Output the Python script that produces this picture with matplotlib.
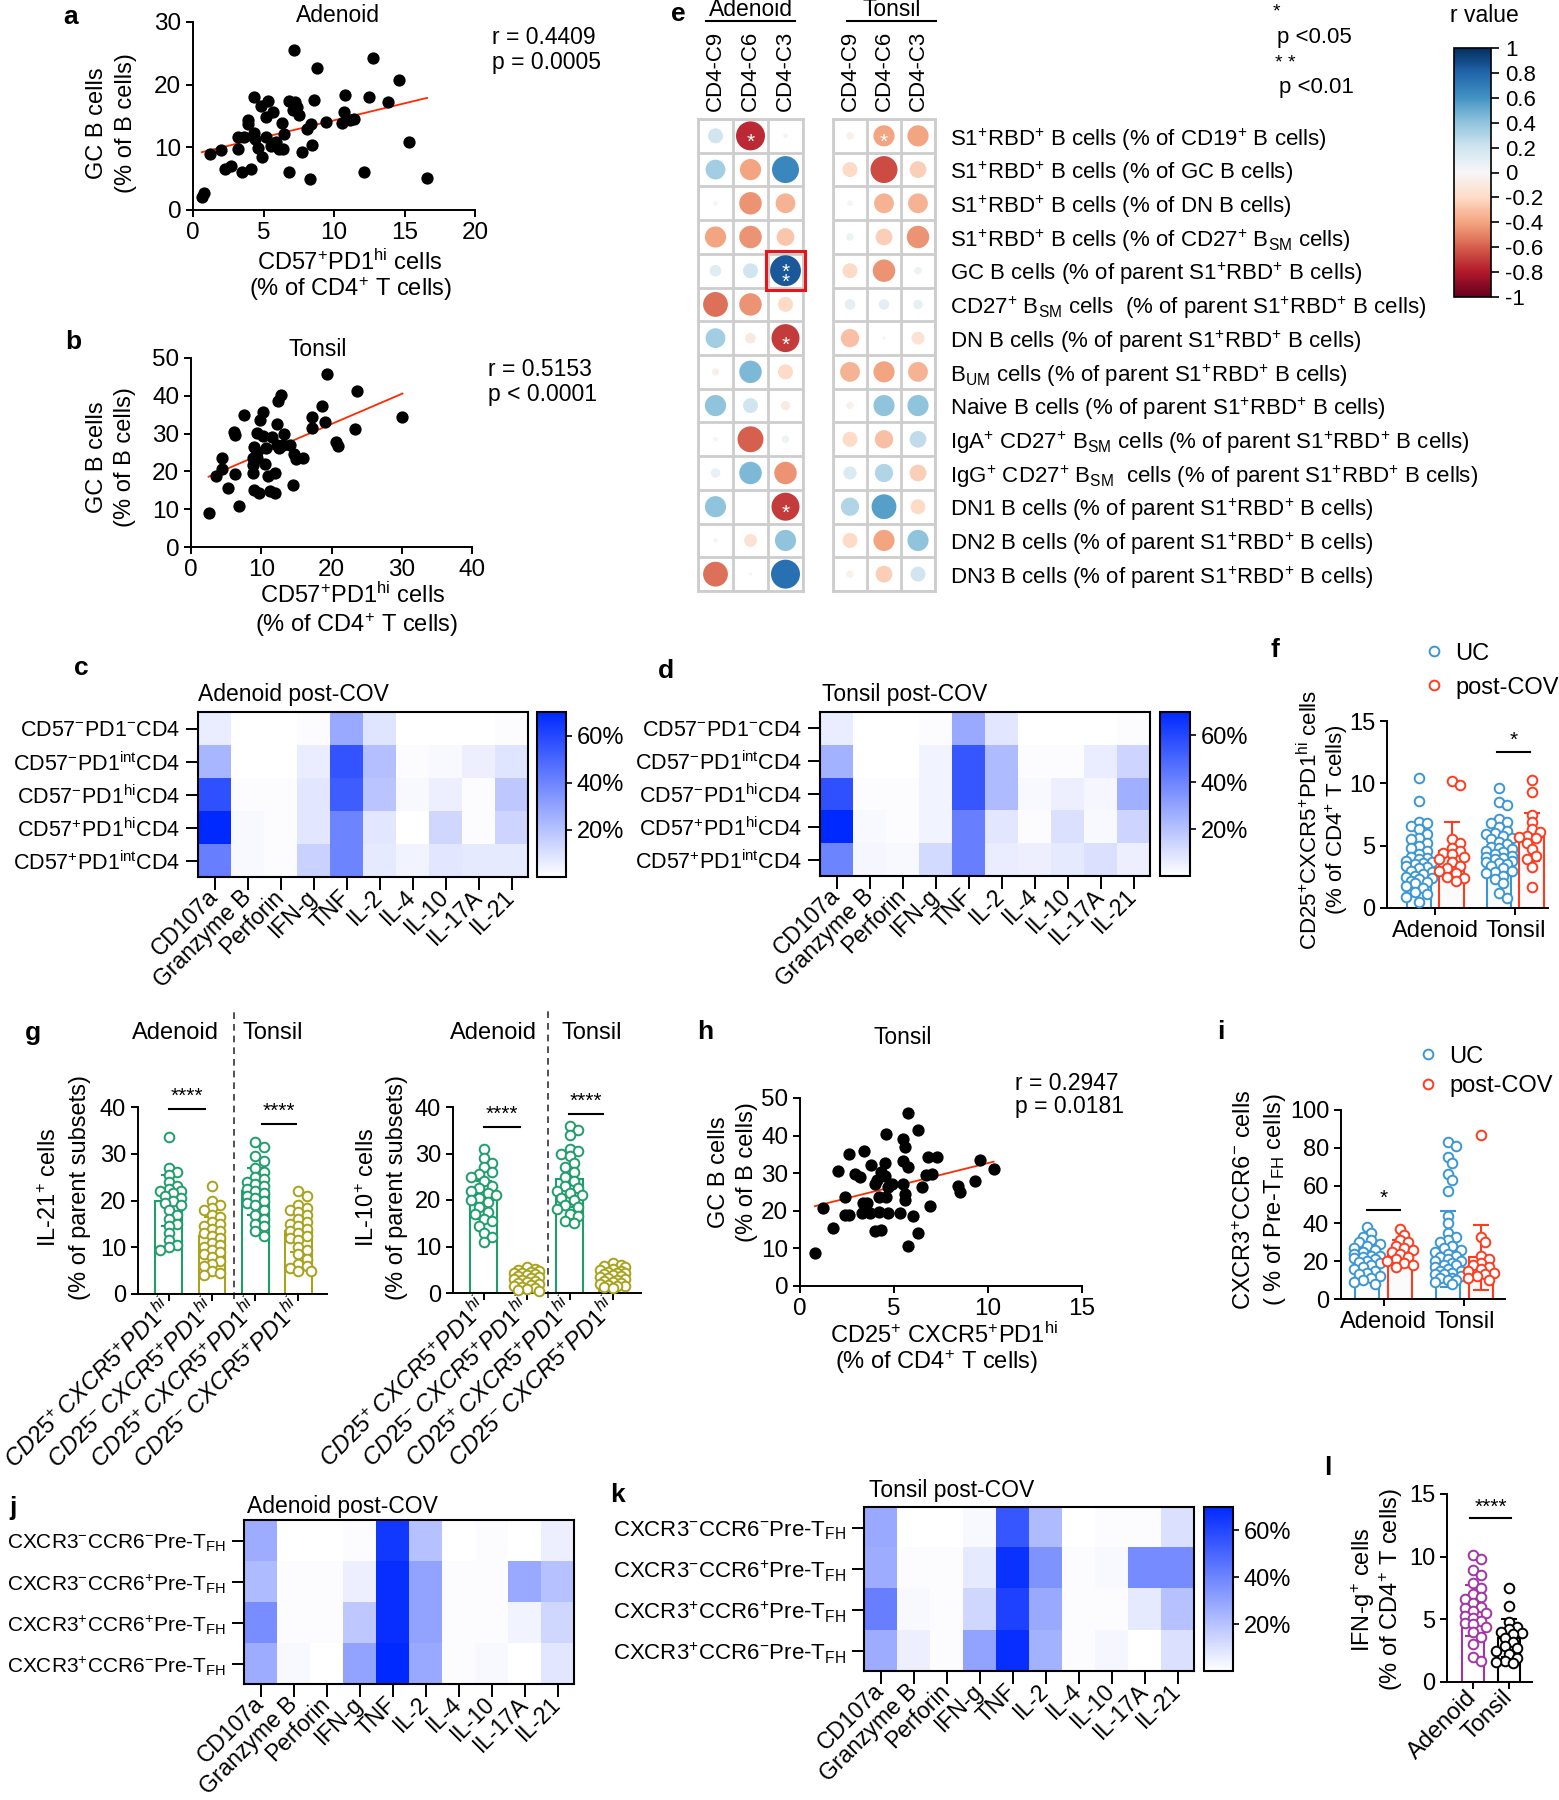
import numpy as np
import matplotlib.pyplot as plt
from matplotlib.colors import LinearSegmentedColormap, Normalize
from matplotlib.cm import ScalarMappable
from matplotlib.lines import Line2D
from matplotlib.patches import Rectangle

plt.rcParams['font.family'] = ['Liberation Sans', 'DejaVu Sans']
plt.rcParams['mathtext.fontset'] = 'custom'
plt.rcParams['mathtext.rm'] = 'Liberation Sans'
plt.rcParams['mathtext.it'] = 'Liberation Sans:italic'
plt.rcParams['mathtext.bf'] = 'Liberation Sans:bold'
plt.rcParams['axes.unicode_minus'] = False
plt.rcParams['axes.linewidth'] = 1.4
plt.rcParams['xtick.major.width'] = 1.4
plt.rcParams['ytick.major.width'] = 1.4
plt.rcParams['xtick.major.size'] = 5
plt.rcParams['ytick.major.size'] = 5
plt.rcParams['font.size'] = 15

# ---------------- data ----------------
# a: adenoid, CD57+PD1hi vs GC B cells
a_x = [0.62, 0.79, 1.18, 2.0, 2.3, 2.7, 3.2, 3.2, 3.5, 3.6, 4.1, 3.9, 3.9, 4.35, 4.3, 4.4,
       4.6, 4.8, 4.9, 5.2, 5.3, 5.2, 5.5, 5.7, 5.9, 6.1, 6.3, 6.45, 6.4, 6.8, 6.8, 7.1,
       7.15, 7.2, 7.4, 7.5, 7.7, 8.1, 8.3, 8.35, 8.45, 8.6, 8.8, 9.45, 10.6, 10.7, 10.8,
       11.1, 11.4, 12.1, 12.5, 12.8, 13.8, 14.6, 15.3, 16.6]
a_y = [2.0, 2.7, 8.9, 9.5, 6.5, 7.1, 9.8, 11.6, 6.1, 11.6, 6.6, 14.3, 13.8, 18.1, 12.3, 11.4,
       9.9, 16.6, 8.5, 14.8, 17.4, 11.7, 10.2, 15.7, 10.9, 9.8, 13.9, 12.2, 9.8, 6.1, 17.4, 15.9,
       25.6, 17.2, 16.5, 15.2, 9.3, 12.9, 4.9, 13.8, 10.4, 17.5, 22.7, 14.1, 13.9, 15.7, 18.3,
       14.3, 14.6, 6.1, 18.1, 24.3, 17.2, 20.8, 10.9, 5.1]
a_fit = (0.542, 8.89)

# b: tonsil
b_x = [2.5, 3.5, 4.4, 4.4, 5.3, 6.1, 6.2, 6.2, 6.9, 7.5, 8.8, 8.8, 8.8, 9.0, 9.0, 9.4, 9.4,
       9.4, 9.7, 9.8, 10.2, 10.3, 10.6, 10.7, 10.9, 11.2, 11.5, 12.0, 12.0, 12.2, 12.2, 12.4,
       12.5, 12.8, 13.1, 13.2, 14.1, 14.5, 14.7, 15.0, 16.0, 17.2, 17.2, 18.7, 19.1, 19.4,
       20.7, 20.9, 23.3, 23.7, 30.1]
b_y = [8.9, 18.8, 23.5, 20.7, 15.5, 30.5, 29.6, 19.2, 10.8, 34.9, 23.5, 21.7, 19.6, 26.5, 15.2,
       30.1, 25.2, 23.5, 14.4, 33.5, 29.4, 35.8, 21.9, 26.1, 18.8, 14.8, 29.2, 19.5, 14.2, 27.0,
       32.6, 38.6, 26.1, 40.2, 27.0, 29.8, 27.0, 16.5, 24.6, 23.2, 23.5, 34.3, 31.4, 37.2, 33.2,
       45.8, 27.9, 26.7, 31.2, 41.2, 34.5]
b_fit = (0.797, 16.6)

# h: tonsil, CD25+CXCR5+PD1hi vs GC B cells
h_x = [0.79, 1.2, 1.75, 2.0, 2.4, 2.4, 2.6, 2.6, 2.9, 3.2, 3.3, 3.4, 3.35, 3.55, 3.7, 3.8, 4.0,
       4.1, 4.2, 4.3, 4.3, 4.5, 4.5, 4.2, 4.0, 4.6, 4.7, 4.6, 4.7, 4.9, 5.3, 5.5, 5.5, 5.5,
       5.6, 5.6, 5.6, 5.75, 5.75, 5.75, 6.0, 6.3, 6.3, 6.5, 6.7, 6.8, 6.9, 7.0, 7.3, 8.4, 8.5,
       9.3, 9.6, 10.3]
h_y = [8.7, 20.7, 15.4, 30.6, 23.6, 19.0, 19.0, 35.0, 29.9, 29.1, 19.3, 36.0, 22.0, 22.0, 19.5,
       32.3, 14.7, 28.1, 19.8, 15.0, 30.2, 32.6, 29.3, 23.8, 27.1, 40.3, 19.5, 23.8, 26.2, 27.1,
       19.5, 27.1, 33.2, 39.0, 37.1, 24.6, 22.8, 46.0, 31.6, 10.7, 18.7, 14.0, 41.4, 26.2, 29.4,
       34.4, 21.3, 29.9, 34.4, 26.6, 24.9, 27.8, 33.5, 31.1]
h_fit = (1.245, 20.24)

# e: correlation matrix (rows = B cell readouts, cols = CD4 clusters)
e_cols = ['CD4-C9', 'CD4-C6', 'CD4-C3']
e_rows = [r"S1$^{+}$RBD$^{+}$ B cells (% of CD19$^{+}$ B cells)",
          r"S1$^{+}$RBD$^{+}$ B cells (% of GC B cells)",
          r"S1$^{+}$RBD$^{+}$ B cells (% of DN B cells)",
          r"S1$^{+}$RBD$^{+}$ B cells (% of CD27$^{+}$ B$_{\mathrm{SM}}$ cells)",
          r"GC B cells (% of parent S1$^{+}$RBD$^{+}$ B cells)",
          r"CD27$^{+}$ B$_{\mathrm{SM}}$ cells  (% of parent S1$^{+}$RBD$^{+}$ B cells)",
          r"DN B cells (% of parent S1$^{+}$RBD$^{+}$ B cells)",
          r"B$_{\mathrm{UM}}$ cells (% of parent S1$^{+}$RBD$^{+}$ B cells)",
          r"Naive B cells (% of parent S1$^{+}$RBD$^{+}$ B cells)",
          r"IgA$^{+}$ CD27$^{+}$ B$_{\mathrm{SM}}$ cells (% of parent S1$^{+}$RBD$^{+}$ B cells)",
          r"IgG$^{+}$ CD27$^{+}$ B$_{\mathrm{SM}}$  cells (% of parent S1$^{+}$RBD$^{+}$ B cells)",
          r"DN1 B cells (% of parent S1$^{+}$RBD$^{+}$ B cells)",
          r"DN2 B cells (% of parent S1$^{+}$RBD$^{+}$ B cells)",
          r"DN3 B cells (% of parent S1$^{+}$RBD$^{+}$ B cells)"]
adn_r = [[0.20, -0.75, 0.02], [0.35, -0.40, 0.65], [0.02, -0.45, -0.35], [-0.40, -0.45, -0.28],
         [0.12, 0.20, 0.85], [-0.55, -0.45, -0.20], [0.35, -0.10, -0.70], [-0.05, 0.45, -0.20],
         [0.40, 0.20, -0.08], [0.02, -0.60, 0.05], [0.08, 0.45, -0.45], [0.40, 0.00, -0.70],
         [-0.02, -0.15, 0.40], [-0.55, 0.01, 0.75]]
ton_r = [[-0.05, -0.40, -0.40], [-0.20, -0.65, -0.25], [-0.03, -0.35, -0.35], [0.05, -0.25, -0.45],
         [-0.20, -0.45, 0.05], [0.10, 0.10, 0.08], [-0.30, -0.01, -0.15], [-0.35, -0.40, -0.35],
         [-0.05, 0.40, 0.40], [-0.20, -0.30, 0.25], [0.15, 0.30, -0.25], [0.30, 0.55, -0.20],
         [-0.20, -0.40, 0.40], [-0.05, -0.25, 0.20]]
adn_sig = [(0, 1, '*'), (4, 2, '*\n*'), (6, 2, '*'), (11, 2, '*')]
ton_sig = [(0, 1, '*')]

# c, d, j, k: cytokine heatmaps (% of parent)
cytokines = ['CD107a', 'Granzyme B', 'Perforin', 'IFN-g', 'TNF', 'IL-2', 'IL-4', 'IL-10', 'IL-17A', 'IL-21']
cd57_rows = [r"CD57$^{-}$PD1$^{-}$CD4", r"CD57$^{-}$PD1$^{\mathrm{int}}$CD4", r"CD57$^{-}$PD1$^{\mathrm{hi}}$CD4",
             r"CD57$^{+}$PD1$^{\mathrm{hi}}$CD4", r"CD57$^{+}$PD1$^{\mathrm{int}}$CD4"]
c_vals = [[6, 0, 0, 1, 28, 9, 0, 0, 0, 1],
          [24, 0, 0, 6, 56, 21, 1, 2, 5, 9],
          [57, 1, 1, 8, 53, 19, 2, 5, 1, 18],
          [70, 2, 1, 8, 40, 8, 0, 13, 1, 14],
          [42, 2, 1, 15, 40, 7, 4, 8, 7, 7]]
d_vals = [[6, 0, 0, 1, 28, 8, 0, 0, 0, 1],
          [25, 0, 0, 4, 55, 22, 1, 1, 6, 14],
          [57, 1, 1, 4, 55, 22, 2, 5, 3, 26],
          [70, 2, 1, 4, 42, 8, 1, 10, 2, 14],
          [40, 3, 2, 12, 42, 6, 5, 7, 10, 5]]
tfh_rows = [r"CXCR3$^{-}$CCR6$^{-}$Pre-T$_{\mathrm{FH}}$", r"CXCR3$^{-}$CCR6$^{+}$Pre-T$_{\mathrm{FH}}$",
            r"CXCR3$^{+}$CCR6$^{+}$Pre-T$_{\mathrm{FH}}$", r"CXCR3$^{+}$CCR6$^{-}$Pre-T$_{\mathrm{FH}}$"]
j_vals = [[27, 0, 0, 1, 65, 20, 0, 1, 0, 5],
          [22, 1, 1, 5, 68, 30, 1, 1, 28, 20],
          [37, 1, 1, 18, 68, 30, 1, 1, 4, 13],
          [27, 2, 0, 30, 70, 28, 1, 2, 0, 8]]
k_vals = [[28, 0, 0, 2, 55, 22, 0, 1, 1, 10],
          [27, 1, 1, 7, 67, 35, 1, 2, 38, 38],
          [42, 2, 1, 13, 62, 28, 1, 1, 7, 20],
          [27, 5, 1, 30, 68, 25, 1, 3, 0, 10]]

# f: CD25+CXCR5+PD1hi (% of CD4+ T cells)
f_groups = ['Adenoid', 'Tonsil']
f_adn_uc = [10.4, 8.6, 6.9, 6.8, 6.6, 6.3, 5.9, 5.6, 5.5, 5.2, 5.0, 4.8, 4.6, 4.3, 4.1, 4.0, 3.9, 3.8,
            3.7, 3.6, 3.5, 3.4, 3.3, 3.2, 3.0, 2.9, 2.7, 2.6, 2.5, 2.4, 2.3, 2.2, 2.1, 2.0, 1.8, 1.6,
            1.3, 1.1, 0.9, 0.5]
f_adn_pc = [10.2, 9.9, 5.5, 5.2, 4.8, 4.6, 4.4, 4.3, 4.1, 3.9, 3.7, 3.4, 3.2, 3.0, 2.8, 2.5, 2.4, 2.2]
f_ton_uc = [9.6, 8.5, 8.3, 7.1, 6.9, 6.8, 6.5, 6.2, 6.0, 5.9, 5.8, 5.6, 5.5, 5.3, 5.1, 4.9, 4.8, 4.7,
            4.6, 4.5, 4.3, 4.2, 4.1, 4.0, 3.9, 3.8, 3.7, 3.6, 3.5, 3.4, 3.2, 3.0, 2.9, 2.8, 2.6, 2.3,
            2.0, 1.2, 0.8]
f_ton_pc = [10.3, 9.3, 7.5, 6.9, 6.3, 6.1, 5.8, 5.7, 5.6, 5.2, 4.7, 4.2, 3.9, 3.3, 1.7]
f_mean = [3.7, 4.6, 4.6, 5.7]
f_sd = [2.0, 2.3, 2.0, 1.9]

# g: IL-21+ and IL-10+ (% of parent subsets)
g_labels = [r"$\mathit{CD25^{+}\,CXCR5^{+}PD1^{hi}}$", r"$\mathit{CD25^{-}\,CXCR5^{+}PD1^{hi}}$",
            r"$\mathit{CD25^{+}\,CXCR5^{+}PD1^{hi}}$", r"$\mathit{CD25^{-}\,CXCR5^{+}PD1^{hi}}$"]
il21 = [[33.5, 27, 26, 25.5, 24, 23, 22.5, 22, 22, 21.5, 21, 20.5, 20, 19.5, 19, 18, 17, 16, 15, 14.5,
         13, 11.5, 10.5, 10, 9.5],
        [23, 20, 19, 18.5, 18, 17, 16.5, 15.5, 15, 14.5, 14, 13.5, 13, 12.5, 12, 11, 10.5, 10, 9.5,
         9, 8.5, 8, 7, 6.5, 6, 5, 4.5, 4],
        [32.5, 31.5, 29.5, 28.5, 27, 26, 25, 24.5, 24, 23.5, 23, 22.5, 22, 21.5, 21, 20.5, 20, 19.5,
         19, 18, 17, 16, 15, 14.5, 13.5, 12.5],
        [22, 21, 19, 18.5, 18, 17.5, 17, 16, 15.5, 15, 14.5, 14, 13.5, 13, 12.5, 12, 11.5, 10, 9.5,
         8.5, 7.5, 6.5, 6, 5.5, 5, 5]]
il21_mean = [20, 12.5, 22, 13.5]
il21_sd = [5.5, 4.0, 5.0, 4.5]
il10 = [[31, 29, 28, 27, 26, 25.5, 25, 24, 23, 22.5, 22, 21.5, 21, 20.5, 20, 19.5, 18.5, 17.5, 17,
         16, 15.5, 14.5, 13, 12, 11],
        [5.5, 5.2, 5, 4.8, 4.6, 4.4, 4.2, 4, 3.8, 3.6, 3.4, 3.2, 3, 2.8, 2.6, 2.4, 2.2, 2, 1.8, 1.5,
         1.2, 1.0, 0.8, 0.6, 0.5],
        [36, 35, 34, 31, 30.5, 30, 29.5, 28, 27, 26, 25, 24, 23, 22.5, 22, 21.5, 21, 20.5, 20, 19,
         18.5, 18, 17, 16.5, 15.5, 15],
        [6.5, 6, 5.8, 5.5, 5.2, 5, 4.8, 4.6, 4.4, 4.2, 4, 3.8, 3.6, 3.4, 3.2, 3, 2.8, 2.6, 2.4, 2.2,
         2, 1.8, 1.6, 1.4, 1.2, 1.0]]
il10_mean = [20, 3, 24.5, 3.5]
il10_sd = [4.0, 1.5, 6.0, 1.5]

# i: CXCR3+CCR6- (% of Pre-TFH cells)
i_adn_uc = [38, 35, 33, 31, 30, 29, 28, 27, 26, 25, 24, 23, 22.5, 22, 21.5, 21, 20, 19.5, 19, 18,
            17, 16, 15, 14, 13, 12, 11, 10, 9, 8]
i_adn_pc = [37, 34, 31, 30, 28, 27, 26, 25, 24, 22, 21, 20, 19, 18, 17]
i_ton_uc = [83, 81, 75, 72, 66, 63, 57, 44, 40, 35, 33, 31, 30, 28, 27, 26, 25, 24, 23, 22, 21, 20,
            20, 19, 18, 18, 17, 16, 15, 15, 14, 13, 13, 12, 11, 11, 10, 10, 9, 8]
i_ton_pc = [87, 33, 30, 23, 21, 19, 18, 17, 16, 15, 14, 13, 12, 11, 10]
i_mean = [22, 25, 26.5, 22]
i_sd = [7, 6, 20, 17]

# l: IFN-g+ (% of CD4+ T cells)
l_groups = ['Adenoid', 'Tonsil']
l_adn = [10.1, 9.8, 8.9, 8.5, 7.9, 7.5, 7.0, 6.8, 6.6, 6.3, 6.0, 5.9, 5.7, 5.5, 5.3, 5.1, 4.9, 4.7,
         4.6, 4.4, 4.0, 3.6, 3.0, 2.0, 1.7]
l_ton = [7.5, 6.1, 4.8, 4.4, 4.2, 4.0, 3.9, 3.8, 3.5, 3.2, 2.9, 2.7, 2.5, 2.2, 1.9, 1.7, 1.6, 1.5]
l_mean = [5.7, 3.5]
l_sd = [2.0, 1.5]

UC = '#3b97d3'
PC = '#ff3b1f'
GREEN = '#1f9e6c'
OLIVE = '#a9a21b'
PURPLE = '#a234a8'
RED_LINE = '#ff2a00'

# ---------------- figure ----------------
W, H = 1559, 1800
fig = plt.figure(figsize=(W / 100, H / 100), dpi=100)


def box(l, t, r, b):
    return fig.add_axes([l / W, 1 - b / H, (r - l) / W, (b - t) / H])


def ftext(x, y, s, **kw):
    kw.setdefault('ha', 'center')
    kw.setdefault('va', 'center')
    return fig.text(x / W, 1 - y / H, s, **kw)


def letter(x, y, s):
    ftext(x, y, s, fontsize=19, fontweight='bold')


def ylab(x1, x2, y, l1, l2, size=15):
    ftext(x1, y, l1, rotation=90, fontsize=size)
    ftext(x2, y, l2, rotation=90, fontsize=size)


def clean(ax):
    ax.spines['top'].set_visible(False)
    ax.spines['right'].set_visible(False)


def corr_panel(rect, x, y, fit, xmax, xstep, ymax, ystep):
    ax = box(*rect)
    ax.scatter(x, y, s=78, color='black', linewidths=0, zorder=3, clip_on=False)
    xs = np.array([min(x), max(x)])
    ax.plot(xs, fit[0] * xs + fit[1], color=RED_LINE, lw=1.3, zorder=2)
    ax.set_xlim(0, xmax)
    ax.set_ylim(0, ymax)
    ax.set_xticks(np.arange(0, xmax + 1, xstep))
    ax.set_yticks(np.arange(0, ymax + 1, ystep))
    ax.tick_params(labelsize=17.5)
    clean(ax)
    return ax


blues = LinearSegmentedColormap.from_list('white_blue', ['#ffffff', '#0029ff'])


def heat_panel(rect, vals, rows, cbar=None, rowsize=15.5):
    ax = box(*rect)
    im = ax.imshow(np.array(vals), cmap=blues, vmin=0, vmax=70, aspect='auto', interpolation='nearest')
    ax.set_xticks(range(len(cytokines)))
    ax.set_xticklabels(cytokines, rotation=45, ha='right', va='center', rotation_mode='anchor', fontsize=16.5)
    ax.set_yticks(range(len(rows)))
    ax.set_yticklabels(rows, fontsize=rowsize)
    ax.tick_params(length=9, width=1.4, pad=4)
    ax.tick_params(axis='x', pad=3)
    for s in ax.spines.values():
        s.set_linewidth(1.5)
    if cbar is not None:
        cax = box(*cbar)
        cb = fig.colorbar(im, cax=cax)
        cb.set_ticks([20, 40, 60])
        cb.set_ticklabels(['20%', '40%', '60%'])
        cb.outline.set_linewidth(1.5)
        cax.tick_params(labelsize=17, length=4, width=1.2)
    return ax


def swarm_x(ax, x0, vals, step, mind):
    tr = ax.transData
    inv = tr.inverted()
    placed = []
    out = []
    for v in vals:
        px, py = tr.transform((x0, v))
        best, best_d = px, -1
        for k in (0, 1, -1, 2, -2, 3, -3):
            cx = px + k * step
            d = min([np.hypot(cx - qx, py - qy) for qx, qy in placed] or [1e9])
            if d >= mind:
                best = cx
                break
            if d > best_d:
                best, best_d = cx, d
        placed.append((best, py))
        out.append(inv.transform((best, py))[0])
    return out


def bar_dots(ax, x0, vals, mean, sd, color, width, face='white', ms=48):
    ax.bar(x0, mean, width=width, facecolor=face, edgecolor=color, lw=1.5, zorder=1)
    ax.errorbar(x0, mean, yerr=sd, fmt='none', ecolor=color, elinewidth=1.5,
                capsize=6, capthick=1.5, zorder=2)
    xs = swarm_x(ax, x0, vals, 4.2, 7.0)
    ax.scatter(xs, vals, s=ms, facecolors='white', edgecolors=color, linewidths=1.4,
               zorder=3, clip_on=False)


def sig(ax, x1, x2, y, text, dy, size=15):
    ax.plot([x1, x2], [y, y], color='black', lw=1.5, clip_on=False)
    ax.text((x1 + x2) / 2, y + dy, text, ha='center', va='bottom', fontsize=size, clip_on=False)


# ---- a ----
corr_panel((193, 22, 475, 210), a_x, a_y, a_fit, 20, 5, 30, 10)
letter(71, 17, 'a')
ftext(338, 16, 'Adenoid', fontsize=16.5)
ftext(492, 37, 'r = 0.4409', ha='left', fontsize=16.5)
ftext(492, 62, 'p = 0.0005', ha='left', fontsize=16.5)
ftext(350, 262, r"CD57$^{+}$PD1$^{\mathrm{hi}}$ cells", fontsize=17)
ftext(350, 289, r"(% of CD4$^{+}$ T cells)", fontsize=17)
ylab(97, 126, 123, 'GC B cells', '(% of B cells)', 17)

# ---- b ----
corr_panel((191, 358, 472, 547), b_x, b_y, b_fit, 40, 10, 50, 10)
letter(73, 342, 'b')
ftext(318, 349, 'Tonsil', fontsize=16.5)
ftext(488, 369, 'r = 0.5153', ha='left', fontsize=16.5)
ftext(488, 395, 'p < 0.0001', ha='left', fontsize=16.5)
ftext(353, 595, r"CD57$^{+}$PD1$^{\mathrm{hi}}$ cells", fontsize=17)
ftext(356, 625, r"(% of CD4$^{+}$ T cells)", fontsize=17)
ylab(97, 125, 457, 'GC B cells', '(% of B cells)', 17)

# ---- e ----
letter(678, 14, 'e')
ax_ea = box(698, 119, 803, 591)
ax_et = box(833, 119, 935, 591)
for ax, rv, marks in ((ax_ea, adn_r, adn_sig), (ax_et, ton_r, ton_sig)):
    rv = np.array(rv)
    rr, cc = np.meshgrid(np.arange(rv.shape[0]), np.arange(rv.shape[1]), indexing='ij')
    ax.scatter(cc.ravel(), rr.ravel(), s=580 * np.abs(rv.ravel()), c=rv.ravel(), cmap='RdBu',
               vmin=-1, vmax=1, linewidths=0, zorder=3)
    for row, col, m in marks:
        ax.text(col, row + 0.2, m, color='white', ha='center', va='center', fontsize=15,
                linespacing=0.4, zorder=4)
    ax.set_xlim(-0.5, rv.shape[1] - 0.5)
    ax.set_ylim(rv.shape[0] - 0.5, -0.5)
    ax.set_xticks(np.arange(-0.5, rv.shape[1]), minor=True)
    ax.set_yticks(np.arange(-0.5, rv.shape[0]), minor=True)
    ax.grid(which='minor', color='#cdcdcd', lw=2)
    ax.tick_params(which='minor', length=0)
    for s in ax.spines.values():
        s.set_color('#cdcdcd')
        s.set_linewidth(2)
    ax.xaxis.tick_top()
    ax.set_xticks(range(len(e_cols)))
    ax.set_xticklabels(e_cols, rotation=90, fontsize=16)
    ax.tick_params(axis='x', length=0, pad=6)
    ax.set_yticks(range(len(e_rows)))
ax_ea.set_yticklabels([])
ax_ea.tick_params(axis='y', length=0)
ax_et.yaxis.tick_right()
ax_et.set_yticklabels(e_rows, fontsize=16)
ax_et.tick_params(axis='y', length=0, pad=11)
ax_ea.add_patch(Rectangle((2 - 0.57, 4 - 0.57), 1.14, 1.14, fill=False, ec='#e8141c', lw=2.2,
                          clip_on=False, zorder=5))

ftext(751, 9, 'Adenoid', fontsize=16.5)
ftext(892, 9, 'Tonsil', fontsize=16.5)
fig.add_artist(Line2D([706 / W, 795 / W], [1 - 21 / H, 1 - 21 / H], color='black', lw=1.5))
fig.add_artist(Line2D([847 / W, 936 / W], [1 - 21 / H, 1 - 21 / H], color='black', lw=1.5))

ftext(1276, 12, '*', fontsize=14)
ftext(1277, 37, 'p <0.05', ha='left', fontsize=16)
ftext(1285, 63, '* *', fontsize=14)
ftext(1279, 88, 'p <0.01', ha='left', fontsize=16)

cax_e = box(1454, 48, 1491, 297)
cb_e = fig.colorbar(ScalarMappable(norm=Normalize(-1, 1), cmap='RdBu'), cax=cax_e)
e_ticks = np.round(np.arange(-1, 1.01, 0.2), 1)
cb_e.set_ticks(e_ticks)
cb_e.set_ticklabels(['%g' % (t if abs(t) > 1e-9 else 0) for t in e_ticks])
cb_e.outline.set_linewidth(1.2)
cax_e.tick_params(labelsize=16, length=6, width=1.2, pad=4)
ftext(1484, 15, 'r value', fontsize=16.5)

# ---- c, d ----
heat_panel((198, 712, 528, 877), c_vals, cd57_rows, cbar=(537, 712, 566, 877))
letter(81, 668, 'c')
ftext(198, 695, 'Adenoid post-COV', ha='left', fontsize=16.5)

heat_panel((820, 712, 1150, 876), d_vals, cd57_rows, cbar=(1160, 712, 1190, 876))
letter(666, 671, 'd')
ftext(822, 695, 'Tonsil post-COV', ha='left', fontsize=16.5)

# ---- f ----
ax_f = box(1387, 721, 1548, 908)
f_pos = [0, 1, 2.45, 3.45]
ax_f.set_xlim(-0.98, 3.95)
ax_f.set_ylim(0, 15)
for p, v, m, s, c in zip(f_pos, [f_adn_uc, f_adn_pc, f_ton_uc, f_ton_pc], f_mean, f_sd, [UC, PC, UC, PC]):
    bar_dots(ax_f, p, v, m, s, c, 0.76, face='#fbfbfb')
ax_f.set_xticks([0.5, 2.95])
ax_f.set_xticklabels(f_groups, fontsize=17)
ax_f.set_yticks([0, 5, 10, 15])
ax_f.tick_params(labelsize=17)
clean(ax_f)
sig(ax_f, 2.4, 3.4, 12.5, '*', 0.2)
leg_handles = [Line2D([], [], ls='', marker='o', mfc='none', mec=UC, mew=1.4, ms=7),
               Line2D([], [], ls='', marker='o', mfc='none', mec=PC, mew=1.4, ms=7)]
ax_f.legend(leg_handles, ['UC', 'post-COV'], loc='lower left', bbox_to_anchor=(0.22, 1.12),
            frameon=False, borderpad=0, borderaxespad=0, handlelength=1.0, handletextpad=0.4,
            labelspacing=0.5, fontsize=17)
letter(1275, 650, 'f')
ylab(1310, 1337, 820, r"CD25$^{+}$CXCR5$^{+}$PD1$^{\mathrm{hi}}$ cells", r"(% of CD4$^{+}$ T cells)", 16)

# ---- g ----
g_colors = [GREEN, OLIVE, GREEN, OLIVE]
g_pos = [0, 1, 2, 3]
for rect, vals, means, sds, xl in (((138, 1107, 327, 1294), il21, il21_mean, il21_sd, 'IL-21'),
                                  ((453, 1107, 641, 1293), il10, il10_mean, il10_sd, 'IL-10')):
    ax = box(*rect)
    ax.set_xlim(-0.71, 3.66)
    ax.set_ylim(0, 40)
    for p, v, m, s, c in zip(g_pos, vals, means, sds, g_colors):
        bar_dots(ax, p, v, m, s, c, 0.62)
    ax.set_xticks(g_pos)
    ax.set_xticklabels(g_labels, rotation=45, ha='right', va='center', rotation_mode='anchor', fontsize=14)
    ax.set_yticks([0, 10, 20, 30, 40])
    ax.tick_params(labelsize=17)
    ax.tick_params(axis='x', pad=2)
    clean(ax)
    ax.plot([1.5, 1.5], [-1, 61], ls=(0, (4, 3)), color='#333333', lw=1.2, clip_on=False)
    if xl == 'IL-21':
        sig(ax, 0.0, 0.85, 39.6, '****', 0.6)
        sig(ax, 2.15, 2.95, 36.4, '****', 0.6)
    else:
        sig(ax, 0.0, 0.85, 35.7, '****', 0.6)
        sig(ax, 1.98, 2.78, 38.6, '****', 0.6)
letter(33, 1033, 'g')
ftext(175, 1033, 'Adenoid', fontsize=17)
ftext(273, 1033, 'Tonsil', fontsize=17)
ftext(493, 1033, 'Adenoid', fontsize=17)
ftext(592, 1033, 'Tonsil', fontsize=17)
ylab(50, 80, 1187, r"IL-21$^{+}$ cells", '(% of parent subsets)', 17)
ylab(368, 397, 1187, r"IL-10$^{+}$ cells", '(% of parent subsets)', 17)

# ---- h ----
corr_panel((800, 1098, 1082, 1286), h_x, h_y, h_fit, 15, 5, 50, 10)
letter(705, 1032, 'h')
ftext(903, 1037, 'Tonsil', fontsize=16.5)
ftext(1015, 1083, 'r = 0.2947', ha='left', fontsize=16.5)
ftext(1015, 1107, 'p = 0.0181', ha='left', fontsize=16.5)
ftext(944, 1335, r"CD25$^{+}$ CXCR5$^{+}$PD1$^{\mathrm{hi}}$", fontsize=17)
ftext(936, 1362, r"(% of CD4$^{+}$ T cells)", fontsize=17)
ylab(719, 747, 1172, 'GC B cells', '(% of B cells)', 17)

# ---- i ----
ax_i = box(1341, 1110, 1505, 1299)
i_pos = [0, 1, 2.45, 3.45]
ax_i.set_xlim(-0.79, 4.18)
ax_i.set_ylim(0, 100)
for p, v, m, s, c in zip(i_pos, [i_adn_uc, i_adn_pc, i_ton_uc, i_ton_pc], i_mean, i_sd, [UC, PC, UC, PC]):
    bar_dots(ax_i, p, v, m, s, c, 0.73, face='#fbfbfb')
ax_i.set_xticks([0.5, 2.95])
ax_i.set_xticklabels(f_groups, fontsize=17)
ax_i.set_yticks(np.arange(0, 101, 20))
ax_i.tick_params(labelsize=17)
clean(ax_i)
sig(ax_i, 0.0, 1.0, 47, '*', 1)
ax_i.legend(leg_handles, ['UC', 'post-COV'], loc='lower left', bbox_to_anchor=(0.46, 1.07),
            frameon=False, borderpad=0, borderaxespad=0, handlelength=1.0, handletextpad=0.4,
            labelspacing=0.3, fontsize=17)
letter(1221, 1032, 'i')
ylab(1245, 1275, 1200, r"CXCR3$^{+}$CCR6$^{-}$ cells", r"( % of Pre-T$_{\mathrm{FH}}$ cells)", 17)

# ---- j, k ----
heat_panel((244, 1520, 574, 1684), j_vals, tfh_rows, rowsize=15)
letter(13, 1508, 'j')
ftext(247, 1506, 'Adenoid post-COV', ha='left', fontsize=16.5)

heat_panel((864, 1507, 1194, 1671), k_vals, tfh_rows, cbar=(1204, 1507, 1233, 1671), rowsize=16)
letter(618, 1495, 'k')
ftext(869, 1490, 'Tonsil post-COV', ha='left', fontsize=16.5)

# ---- l ----
ax_l = box(1447, 1494, 1532, 1682)
ax_l.set_xlim(-0.72, 1.64)
ax_l.set_ylim(0, 15)
for p, v, m, s, c in zip([0, 1], [l_adn, l_ton], l_mean, l_sd, [PURPLE, 'black']):
    bar_dots(ax_l, p, v, m, s, c, 0.61)
ax_l.set_xticks([0, 1])
ax_l.set_xticklabels(l_groups, rotation=45, ha='right', va='center', rotation_mode='anchor', fontsize=17)
ax_l.set_yticks([0, 5, 10, 15])
ax_l.tick_params(labelsize=17)
clean(ax_l)
sig(ax_l, -0.08, 1.06, 13.1, '****', 0.1)
letter(1328, 1468, 'l')
ylab(1363, 1391, 1590, r"IFN-g$^{+}$ cells", r"(% of CD4$^{+}$ T cells)", 17)

fig.savefig('out.png', dpi=100, facecolor='white')
